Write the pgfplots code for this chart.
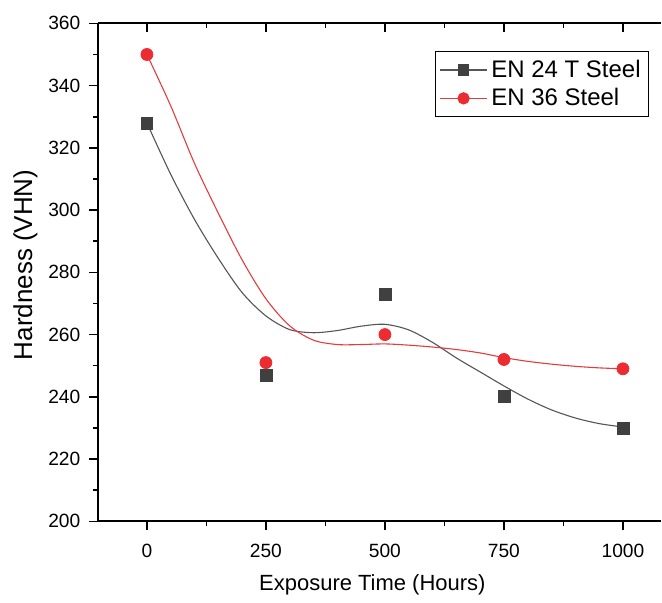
\documentclass[border=0pt]{standalone}
\usepackage{fontspec}
\setmainfont{Liberation Sans}
\usepackage{pgfplots}
\pgfplotsset{compat=1.18}
\definecolor{gser}{RGB}{64,64,64}
\definecolor{gline}{RGB}{85,85,85}
\definecolor{rser}{RGB}{236,44,48}
\definecolor{rline}{RGB}{226,60,60}
\begin{document}
\begin{tikzpicture}
\pgfplotsset{
  common/.style={
    scale only axis,
    width=281.75pt, height=249.35pt,
    xmin=-102, xmax=1080, ymin=200, ymax=360,
    xtick={0,250,500,750,1000},
    ytick={200,220,...,360},
    minor x tick num=1, minor y tick num=1,
    major tick length=4.5pt, minor tick length=2.5pt,
    every tick/.style={black, line width=0.8pt},
    axis line style={-, black, line width=1pt},
    /pgf/number format/assume math mode=true,
    /pgf/number format/1000 sep={},
    tick label style={font=\fontsize{9.6}{11}\selectfont},
  }
}
\begin{axis}[common,
  axis x line*=bottom, axis y line*=left,
  tick align=outside,
  xticklabel style={yshift=-3.5pt},
  yticklabel style={xshift=-1pt},
  every axis x label/.style={at={(rel axis cs:0.487,0)}, yshift=-32pt, anchor=center},
  every axis y label/.style={at={(rel axis cs:0,0.515)}, xshift=-36.5pt, rotate=90, anchor=center},
  xlabel={\fontsize{11}{13}\selectfont Exposure Time (Hours)},
  ylabel={\fontsize{13}{15}\selectfont Hardness (VHN)},
  legend style={at={(0.979,0.944)}, anchor=north east, draw=black, line width=0.6pt,
    font=\fontsize{12}{14}\selectfont, row sep=0pt, inner sep=2pt,
    cells={anchor=west},
    /tikz/every even column/.append style={column sep=1.5pt}},
  legend image code/.code={\draw[mark repeat=2,mark phase=2] plot coordinates {(0cm,0cm) (0.41cm,0cm) (0.82cm,0cm)};},
]
% fitted curves
\addplot[gline, line width=0.55pt, smooth, forget plot] coordinates {
(0,328) (50,311.5) (100,297) (150,284.5) (200,273.5) (250,266) (300,261.6)
(350,260.6) (400,261.3) (450,262.7) (500,263.3) (550,261.5) (600,257.5)
(650,252.5) (700,248) (750,243.5) (800,239.3) (850,235.8) (900,233.2)
(950,231.4) (1000,230.3)};
\addplot[rline, line width=0.55pt, smooth, forget plot] coordinates {
(0,350) (50,333.5) (100,315) (150,299) (200,284) (250,271.5) (300,262.8)
(350,258.2) (400,256.8) (450,256.8) (500,257) (550,256.6) (600,256)
(650,255.2) (700,254.1) (750,252.6) (800,251.4) (850,250.5) (900,249.8)
(950,249.3) (1000,249)};
% data points
\addplot[only marks, mark=square*, mark size=3pt, gser, forget plot] coordinates {
(0,328) (250,247) (500,273) (750,240) (1000,230)};
\addplot[only marks, mark=*, mark size=3pt, rser, forget plot] coordinates {
(0,350) (250,251) (500,260) (750,252) (1000,249)};
\addlegendimage{gline, line width=0.55pt, mark=square*, mark size=2.6pt, mark options={gser}}
\addlegendentry{EN 24 T Steel}
\addlegendimage{rline, line width=0.55pt, mark=*, mark size=2.8pt, mark options={rser}}
\addlegendentry{EN 36 Steel}
\end{axis}
\begin{axis}[common,
  axis x line*=top, axis y line=none,
  tick align=inside, xticklabels={}, yticklabels={},
]
\end{axis}
\path (current axis.south west) ++(-49.25pt,-38.15pt) rectangle ([yshift=11.7pt]current axis.north east);
\end{tikzpicture}
\end{document}
